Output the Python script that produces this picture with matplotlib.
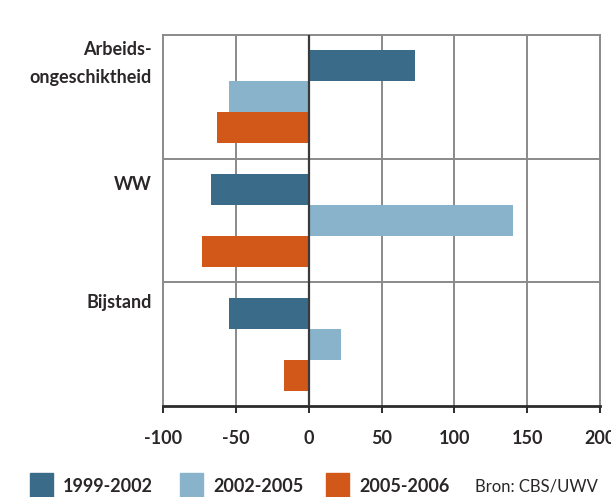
import matplotlib.pyplot as plt
import numpy as np
from matplotlib.patches import Rectangle

categories = ["Arbeids-\nongeschiktheid", "WW", "Bijstand"]
periods = ["1999-2002", "2002-2005", "2005-2006"]
values_1999_2002 = [73, -67, -55]
values_2002_2005 = [-55, 140, 22]
values_2005_2006 = [-63, -73, -17]
x_ticks = [-100, -50, 0, 50, 100, 150, 200]
source = "Bron: CBS/UWV"

colors = ["#3A6C8A", "#88B3CB", "#D2581A"]
text_color = "#2B2728"
grid_color = "#8A8A8A"

plt.rcParams["font.family"] = ["Lato", "DejaVu Sans"]

fig = plt.figure(figsize=(6.11, 4.97), dpi=100)
ax = fig.add_axes([0.2668, 0.1831, 0.7152, 0.7465])

series = [values_1999_2002, values_2002_2005, values_2005_2006]
bar_h = 0.25
y = np.arange(len(categories))
for i, (vals, color) in enumerate(zip(series, colors)):
    ax.barh(y + (i - 1) * bar_h, vals, height=bar_h, color=color, zorder=3)

ax.set_xlim(-100, 200)
ax.set_ylim(len(categories) - 0.5, -0.5)

# grid
ax.set_xticks(x_ticks)
ax.set_xticklabels([str(t) for t in x_ticks], fontsize=13, fontweight="bold",
                   color=text_color)
ax.set_yticks([])
for t in x_ticks[1:-1]:
    ax.axvline(t, color=grid_color, lw=1.4, zorder=1)
for b in y[:-1] + 0.5:
    ax.axhline(b, color=grid_color, lw=1.4, zorder=1)
ax.axvline(0, color="#3A3A3A", lw=1.6, zorder=4)

for side in ["top", "left", "right"]:
    ax.spines[side].set_color(grid_color)
    ax.spines[side].set_linewidth(1.4)
ax.spines["bottom"].set_color("#2B2B2B")
ax.spines["bottom"].set_linewidth(2)
ax.tick_params(axis="x", length=5, width=1.4, color="#2B2B2B", pad=12)

# category labels left of the axes
label_offsets = [-0.27, -0.29, -0.34]
for yi, name, off in zip(y, categories, label_offsets):
    ax.text(-0.025, yi + off, name, transform=ax.get_yaxis_transform(),
            ha="right", va="center", fontsize=13, fontweight="bold",
            color=text_color, linespacing=1.75)

# legend drawn by hand along the bottom edge
W, H = 611, 497
legend_x = [30, 180, 326]
for lx, label, color in zip(legend_x, periods, colors):
    fig.add_artist(Rectangle((lx / W, 0), 23 / W, 24 / H, transform=fig.transFigure,
                             color=color))
    fig.text((lx + 33) / W, 2 / H, label, fontsize=13, fontweight="bold",
             color=text_color, ha="left", va="bottom")
fig.text(475 / W, 2 / H, source, fontsize=12, color=text_color,
         ha="left", va="bottom")

fig.savefig("out.png", dpi=100)
